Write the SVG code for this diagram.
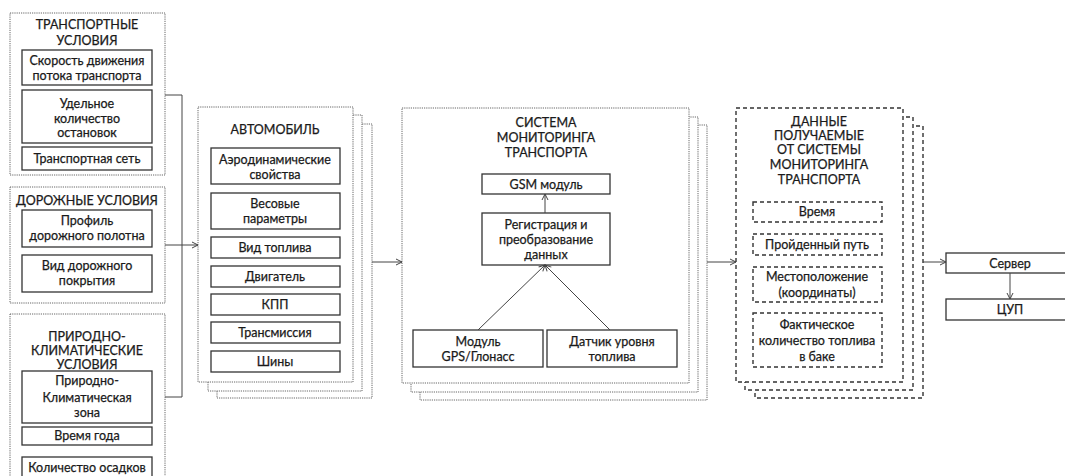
<svg xmlns="http://www.w3.org/2000/svg" width="1065" height="476" viewBox="0 0 1065 476">
<defs>
<style>
text{font-family:Lato,"Liberation Sans",sans-serif;font-size:12.5px;fill:#1a1a1a;stroke:#1a1a1a;stroke-width:0.25;text-anchor:middle}
.dot{fill:#fff;stroke:#666;stroke-width:1;stroke-dasharray:1.2,1}
.box{fill:#fff;stroke:#333;stroke-width:1.3}
.dash{fill:#fff;stroke:#333;stroke-width:1.4;stroke-dasharray:4,3}
.ln{fill:none;stroke:#444;stroke-width:1}
</style>
<marker id="ar" markerWidth="8" markerHeight="8" refX="7" refY="4" orient="auto" markerUnits="userSpaceOnUse">
<path d="M1,1 L7,4 L1,7" fill="none" stroke="#444" stroke-width="1"/>
</marker>
</defs>
<rect width="1065" height="476" fill="#fff"/>

<g id="transport">
<rect class="dot" x="10" y="13" width="155" height="162"/>
<text x="87" y="29">ТРАНСПОРТНЫЕ</text>
<text x="87" y="45">УСЛОВИЯ</text>
<rect class="box" x="22" y="50" width="130" height="35"/>
<text x="87" y="65">Скорость движения</text>
<text x="87" y="80">потока транспорта</text>
<rect class="box" x="22" y="90" width="130" height="53"/>
<text x="87" y="108">Удельное</text>
<text x="87" y="123">количество</text>
<text x="87" y="137">остановок</text>
<rect class="box" x="22" y="147" width="130" height="23"/>
<text x="87" y="163">Транспортная сеть</text>
</g>

<g id="road">
<rect class="dot" x="10" y="187" width="155" height="116"/>
<text x="87" y="205">ДОРОЖНЫЕ УСЛОВИЯ</text>
<rect class="box" x="22" y="210" width="130" height="37"/>
<text x="87" y="225">Профиль</text>
<text x="87" y="240">дорожного полотна</text>
<rect class="box" x="22" y="255" width="130" height="37"/>
<text x="87" y="270">Вид дорожного</text>
<text x="87" y="285">покрытия</text>
</g>

<g id="nature">
<rect class="dot" x="10" y="314" width="155" height="170"/>
<text x="87" y="341">ПРИРОДНО-</text>
<text x="87" y="355">КЛИМАТИЧЕСКИЕ</text>
<text x="87" y="369">УСЛОВИЯ</text>
<rect class="box" x="22" y="371" width="130" height="52"/>
<text x="87" y="385">Природно-</text>
<text x="87" y="402">Климатическая</text>
<text x="87" y="417">зона</text>
<rect class="box" x="22" y="427" width="130" height="18"/>
<text x="87" y="440">Время года</text>
<rect class="box" x="22" y="457" width="130" height="25"/>
<text x="87" y="472">Количество осадков</text>
</g>

<g id="car">
<rect class="dot" x="217" y="124" width="155" height="274"/>
<rect class="dot" x="208" y="115" width="154" height="276"/>
<rect class="dot" x="198" y="107" width="155" height="275"/>
<text x="275" y="134">АВТОМОБИЛЬ</text>
<rect class="box" x="211" y="148" width="129" height="36"/>
<text x="275" y="164">Аэродинамические</text>
<text x="275" y="179">свойства</text>
<rect class="box" x="211" y="193" width="129" height="36"/>
<text x="275" y="208">Весовые</text>
<text x="275" y="223">параметры</text>
<rect class="box" x="211" y="237" width="129" height="21"/>
<text x="275" y="252">Вид топлива</text>
<rect class="box" x="211" y="266" width="129" height="21"/>
<text x="275" y="281">Двигатель</text>
<rect class="box" x="211" y="294" width="129" height="21"/>
<text x="275" y="309">КПП</text>
<rect class="box" x="211" y="322" width="129" height="21"/>
<text x="275" y="337">Трансмиссия</text>
<rect class="box" x="211" y="351" width="129" height="21"/>
<text x="275" y="366">Шины</text>
</g>

<g id="monitoring">
<rect class="dot" x="420" y="125" width="287" height="275"/>
<rect class="dot" x="411" y="117" width="287" height="275"/>
<rect class="dot" x="402" y="108" width="287" height="275"/>
<text x="546" y="127">СИСТЕМА</text>
<text x="546" y="142">МОНИТОРИНГА</text>
<text x="546" y="157">ТРАНСПОРТА</text>
<rect class="box" x="482" y="174" width="128" height="20"/>
<text x="546" y="189">GSM модуль</text>
<rect class="box" x="482" y="213" width="128" height="52"/>
<text x="546" y="229">Регистрация и</text>
<text x="546" y="244">преобразование</text>
<text x="546" y="259">данных</text>
<rect class="box" x="413" y="330" width="130" height="37"/>
<text x="478" y="346">Модуль</text>
<text x="478" y="361">GPS/Глонасс</text>
<rect class="box" x="547" y="330" width="130" height="37"/>
<text x="612" y="346">Датчик уровня</text>
<text x="612" y="361">топлива</text>
</g>

<g id="data">
<rect class="dash" x="755" y="126" width="168" height="272"/>
<rect class="dash" x="745" y="117" width="168" height="273"/>
<rect class="dash" x="736" y="108" width="167" height="274"/>
<text x="819" y="126">ДАННЫЕ</text>
<text x="819" y="140">ПОЛУЧАЕМЫЕ</text>
<text x="819" y="154">ОТ СИСТЕМЫ</text>
<text x="819" y="169">МОНИТОРИНГА</text>
<text x="819" y="184">ТРАНСПОРТА</text>
<rect class="dash" x="753" y="202" width="129" height="20"/>
<text x="817" y="216">Время</text>
<rect class="dash" x="753" y="234" width="129" height="21"/>
<text x="817" y="249">Пройденный путь</text>
<rect class="dash" x="753" y="267" width="129" height="35"/>
<text x="817" y="281">Местоположение</text>
<text x="817" y="297">(координаты)</text>
<rect class="dash" x="753" y="313" width="129" height="54"/>
<text x="817" y="329">Фактическое</text>
<text x="817" y="345">количество топлива</text>
<text x="817" y="361">в баке</text>
</g>

<g id="server">
<rect class="box" x="946" y="253" width="130" height="20"/>
<text x="1010" y="268">Сервер</text>
</g>
<g id="cup">
<rect class="box" x="946" y="299" width="130" height="21"/>
<text x="1010" y="314">ЦУП</text>
</g>

<g id="connectors">
<polyline class="ln" points="165,95 182,95 182,397 165,397"/>
<line class="ln" x1="165" y1="245" x2="198" y2="245" marker-end="url(#ar)"/>
<line class="ln" x1="372" y1="262" x2="402" y2="262" marker-end="url(#ar)"/>
<line class="ln" x1="707" y1="262" x2="736" y2="262" marker-end="url(#ar)"/>
<line class="ln" x1="923" y1="262" x2="946" y2="262" marker-end="url(#ar)"/>
<line class="ln" x1="1010" y1="273" x2="1010" y2="299" marker-end="url(#ar)"/>
<line class="ln" x1="545" y1="213" x2="545" y2="194" marker-end="url(#ar)"/>
<line class="ln" x1="478" y1="330" x2="545" y2="265" marker-end="url(#ar)"/>
<line class="ln" x1="610" y1="330" x2="545" y2="265" marker-end="url(#ar)"/>
</g>
</svg>
